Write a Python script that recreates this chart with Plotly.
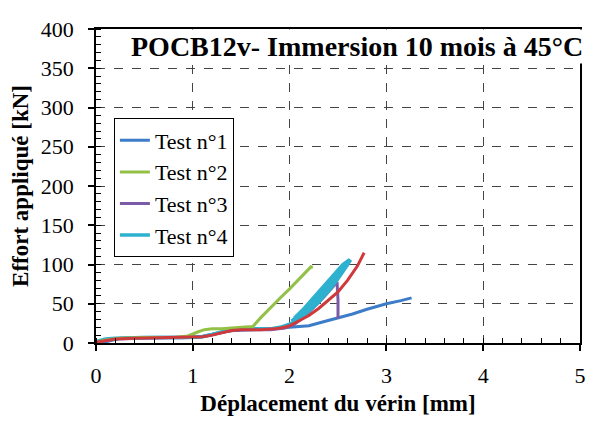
import plotly.graph_objects as go

# Test n°1 (blue)
t1_x = [0.05, 0.15, 0.25, 0.4, 0.7, 1.0, 1.1, 1.2, 1.3, 1.4, 1.6, 1.8, 2.0, 2.2, 2.35, 2.5, 2.65, 2.8, 3.0, 3.15, 3.26]
t1_y = [0, 3, 6, 7, 7, 7.5, 8.5, 11, 14, 16, 17, 18, 20, 22, 27, 32, 37, 43, 50, 54, 57.5]

# Test n°2 (green)
t2_x = [0, 0.1, 0.25, 0.5, 0.8, 0.95, 1.05, 1.12, 1.2, 1.3, 1.4, 1.5, 1.62, 1.7, 1.8, 1.9, 2.0, 2.1, 2.18, 2.22, 2.24]
t2_y = [1, 4, 6, 7, 7, 9, 14, 17, 18, 18, 19, 20, 21, 32, 45, 57, 69, 82, 93, 97, 96]

# Test n°3 (purple)
t3_x = [0, 0.2, 0.5, 0.9, 1.05, 1.15, 1.25, 1.35, 1.5, 1.8, 1.95, 2.05, 2.15, 2.25, 2.35, 2.45, 2.49, 2.5, 2.5]
t3_y = [1, 5, 6, 7, 7, 9, 12, 15, 17, 17, 19, 24, 33, 45, 58, 72, 78, 55, 31]

# Test n°4 (cyan, with load/unload cycles)
t4_x = [0, 0.1, 0.2, 0.5, 0.9, 1.1, 1.2, 1.35, 1.5, 1.8, 1.9, 2.0, 2.1, 2.2, 2.3, 2.4, 2.5, 2.6, 2.63,
        2.6, 2.5, 2.4, 2.3, 2.2, 2.1, 2.02,
        2.1, 2.2, 2.3, 2.4, 2.5, 2.58, 2.62,
        2.55, 2.45, 2.35, 2.25, 2.15, 2.05,
        2.15, 2.25, 2.35, 2.45, 2.55, 2.6]
t4_y = [2, 5, 6, 7, 7, 8, 11, 16, 18, 18, 20, 24, 30, 41, 52, 66, 82, 100, 106,
        102, 90, 76, 62, 48, 36, 28,
        34, 46, 58, 72, 87, 101, 106,
        100, 86, 72, 58, 44, 32,
        40, 53, 67, 82, 98, 104]

# Additional test (red, not in legend)
t5_x = [0, 0.1, 0.2, 0.4, 0.8, 1.0, 1.1, 1.2, 1.3, 1.4, 1.5, 1.7, 1.85, 1.95, 2.0, 2.1, 2.2, 2.3, 2.4, 2.5, 2.6, 2.7, 2.77]
t5_y = [1, 3, 5, 6, 7, 7, 8, 10, 13, 16, 17, 17, 18, 20, 22, 28, 35, 44, 54, 65, 80, 98, 115]

SERIF = "Liberation Serif"

fig = go.Figure()
fig.add_trace(go.Scatter(x=t1_x, y=t1_y, mode="lines", name="Test n°1",
                         line=dict(color="#3D7CC9", width=3), legendrank=1))
fig.add_trace(go.Scatter(x=t3_x, y=t3_y, mode="lines", name="Test n°3",
                         line=dict(color="#7B5BA8", width=3), legendrank=3))
fig.add_trace(go.Scatter(x=t4_x, y=t4_y, mode="lines", name="Test n°4",
                         line=dict(color="#2EB0CF", width=3.5), legendrank=4))
fig.add_trace(go.Scatter(x=t2_x, y=t2_y, mode="lines", name="Test n°2",
                         line=dict(color="#93C047", width=3), legendrank=2))
fig.add_trace(go.Scatter(x=t5_x, y=t5_y, mode="lines", name="Test n°5",
                         line=dict(color="#D0393B", width=3), showlegend=False))

fig.update_layout(
    width=587, height=413,
    margin=dict(l=88, r=9, t=14, b=65),
    paper_bgcolor="white", plot_bgcolor="white",
    font=dict(family=SERIF, size=21, color="black"),
    showlegend=True,
    legend=dict(x=0.037, y=0.715, xanchor="left", yanchor="top",
                bgcolor="white", bordercolor="black", borderwidth=1,
                font=dict(family=SERIF, size=22, color="black"),
                tracegroupgap=0, itemwidth=30),
    annotations=[dict(text="<b>POCB12v- Immersion 10 mois à 45°C</b>",
                      x=0.54, y=0.945, xref="paper", yref="paper",
                      xanchor="center", yanchor="middle", showarrow=False,
                      bgcolor="white",
                      font=dict(family=SERIF, size=28, color="black"))],
)

fig.update_xaxes(
    range=[0, 5], dtick=1, tick0=0,
    showline=True, linecolor="black", linewidth=1.5, mirror=True,
    ticks="outside", ticklen=6, tickcolor="black", tickwidth=1.5,
    ticklabelstandoff=6,
    minor=dict(dtick=0.2, ticks="inside", ticklen=5, tickcolor="black", tickwidth=1.2, showgrid=False),
    showgrid=True, gridcolor="#444", gridwidth=1, griddash="dash",
    zeroline=False,
    tickfont=dict(family=SERIF, size=22),
    title=dict(text="<b>Déplacement du vérin [mm]</b>", standoff=8,
               font=dict(family=SERIF, size=23)),
)
fig.update_yaxes(
    range=[0, 400], dtick=50, tick0=0,
    showline=True, linecolor="black", linewidth=1.5, mirror=True,
    ticks="outside", ticklen=6, tickcolor="black", tickwidth=1.5,
    ticklabelstandoff=10,
    minor=dict(dtick=10, ticks="inside", ticklen=5, tickcolor="black", tickwidth=1.2, showgrid=False),
    showgrid=True, gridcolor="#444", gridwidth=1, griddash="dash",
    zeroline=False,
    tickfont=dict(family=SERIF, size=22),
    title=dict(text="<b>Effort appliqué [kN]</b>", standoff=6,
               font=dict(family=SERIF, size=23)),
)

fig.write_html("out.html")
